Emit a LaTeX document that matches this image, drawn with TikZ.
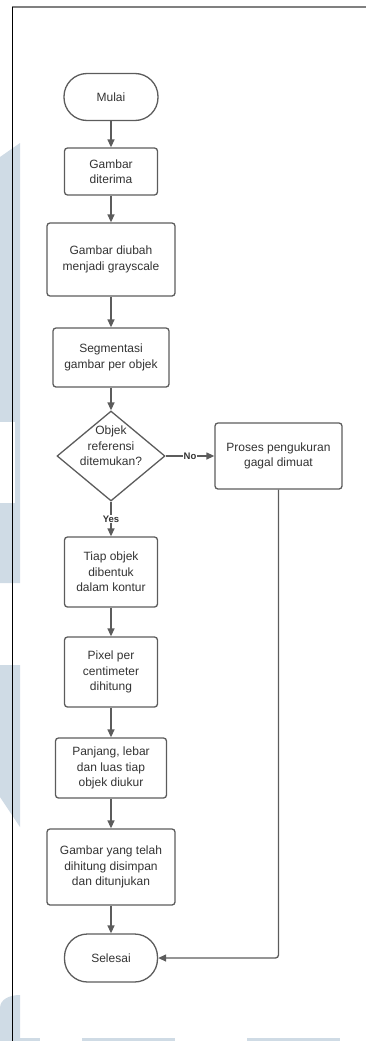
\documentclass[tikz,border=0pt]{standalone}
\usepackage{fontspec}
\setmainfont{Liberation Sans}
\usetikzlibrary{shapes.geometric,arrows.meta}
\definecolor{garis}{HTML}{5C5C5C}
\definecolor{teks}{HTML}{333333}
\definecolor{latar}{HTML}{CFDBE5}

\begin{document}
\begin{tikzpicture}[x=1pt,y=-1pt,
    proses/.style={draw=garis,line width=1.3pt,rounded corners=3pt,align=center,inner sep=0pt,
      text=teks,font=\fontsize{12}{15.3}\selectfont},
    ujung/.style={proses,rounded corners=23pt},
    keputusan/.style={diamond,draw=garis,line width=1.3pt,inner sep=0pt,aspect=1.2,
      minimum width=108pt,minimum height=90pt},
    panah/.style={draw=garis,line width=1.3pt,-{Triangle[length=8pt,width=7pt]}},
    ket/.style={fill=white,text=teks,inner sep=1pt,font=\bfseries\fontsize{9.5}{11}\selectfont}]
      \useasboundingbox (0,0) rectangle (366,1041);
      % Latar (watermark)
      \fill[latar] (0,157) -- (20,143) -- (20,583) -- (0,583) -- cycle;
      \fill[white] (0,422) rectangle (15,503);
      \fill[latar] (0,665) -- (20,665) -- (20,827) -- (0,797) -- cycle;
      \fill[latar] (0,1041) -- (0,1008) .. controls (0,999) and (10,995) .. (20,995) -- (20,1041) -- cycle;
      \foreach \xa/\xb in {20/40,82/175,247/340}
        \fill[latar] (\xa,1038) rectangle (\xb,1041);
      % Bingkai
      \draw[line width=1.5pt,color=gray] (12,7) -- (366,7);
      \draw[line width=0.9pt] (12,7) -- (12,1041);
      % Langkah-langkah
      \node[ujung,minimum width=94pt,minimum height=47pt] (mulai) at (111,97) {Mulai};
      \node[proses,minimum width=93pt,minimum height=47pt] (terima) at (111,171.5) {Gambar\\diterima};
      \node[proses,minimum width=128pt,minimum height=73pt] (gray) at (111,259.5) {Gambar diubah\\menjadi grayscale};
      \node[proses,minimum width=116pt,minimum height=59pt] (segm) at (111,357.5) {Segmentasi\\gambar per objek};
      \node[keputusan] (cek) at (111,456) {};
      \node[text=teks,align=center,font=\fontsize{12}{15.5}\selectfont] (cektxt) at (111,446) {Objek\\referensi\\ditemukan?};
      \node[proses,minimum width=127pt,minimum height=66pt] (gagal) at (278.5,456) {Proses pengukuran\\gagal dimuat};
      \node[proses,minimum width=93pt,minimum height=70pt] (kontur) at (111,572) {Tiap objek\\dibentuk\\dalam kontur};
      \node[proses,minimum width=93pt,minimum height=70pt] (pixel) at (111,672) {Pixel per\\centimeter\\dihitung};
      \node[proses,minimum width=111pt,minimum height=60pt] (ukur) at (111,768) {Panjang, lebar\\dan luas tiap\\objek diukur};
      \node[proses,minimum width=128pt,minimum height=76pt] (simpan) at (111,867) {Gambar yang telah\\dihitung disimpan\\dan ditunjukan};
      \node[ujung,minimum width=93pt,minimum height=48pt] (selesai) at (111,958) {Selesai};
      % Panah
      \foreach \a/\b in {mulai/terima,terima/gray,gray/segm,segm/cek,kontur/pixel,pixel/ukur,ukur/simpan,simpan/selesai}
        \draw[panah] (\a) -- (\b);
      \draw[panah] (cek) -- node[ket] (ya) {Yes} (kontur);
      \draw[panah] (cek) -- node[ket] (tidak) {No} (gagal);
      \draw[panah,rounded corners=3pt] (gagal.south) |- (selesai.east);
\end{tikzpicture}
\end{document}
